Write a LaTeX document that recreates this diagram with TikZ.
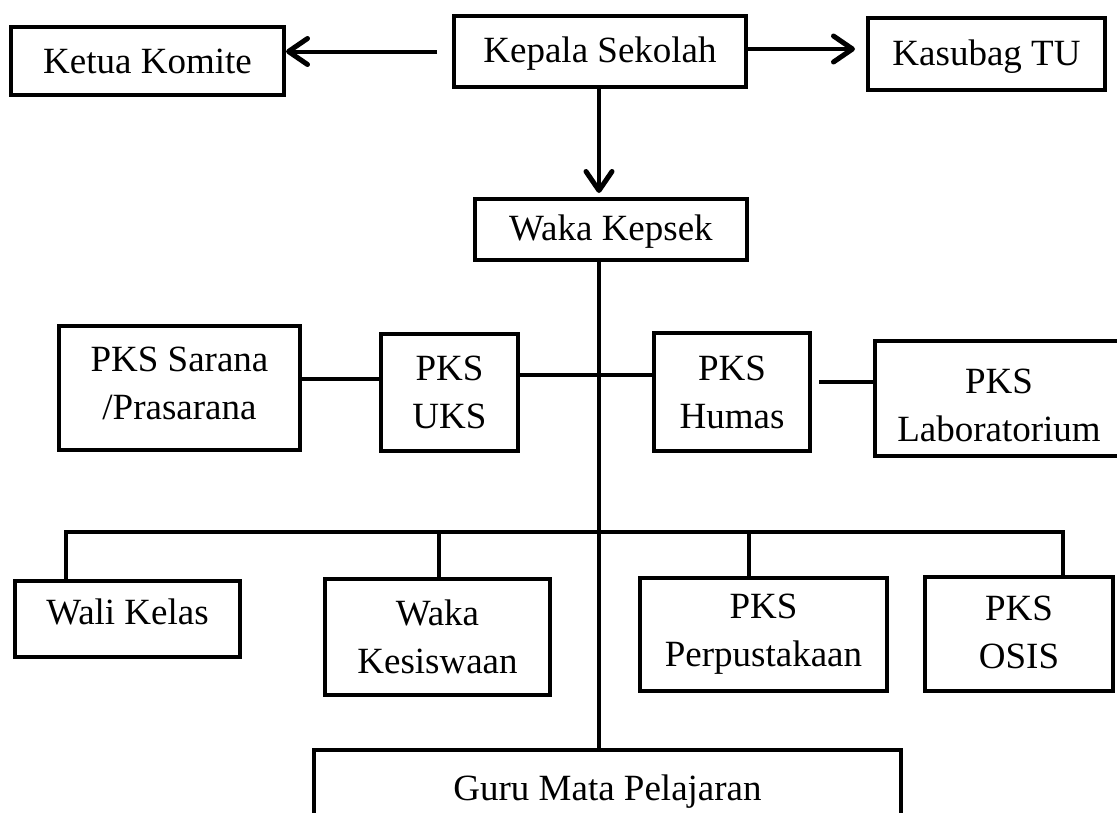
\documentclass[tikz,border=0pt]{standalone}
\usepackage{fontspec}
\setmainfont{Liberation Serif}
\usetikzlibrary{arrows.meta,calc}
\begin{document}
\begin{tikzpicture}[x=1pt,y=-1pt,
  txt/.style={inner sep=0pt, align=center, font=\fontsize{37}{48}\selectfont},
  box/.style={draw, line width=4pt, rectangle, txt},
  conn/.style={line width=4pt},
  arr/.style={line width=4pt, -{Straight Barb[length=19pt,width=26pt,line width=5pt,round]}}]
\fill[white] (0,0) rectangle (1117,812);
\clip (0,0) rectangle (1117,812);
% top row
\node[box, minimum width=273pt, minimum height=68pt] (ketua) at (147.5,61) {Ketua Komite};
\node[box, minimum width=292pt, minimum height=71pt, text depth=3pt] (kepala) at (600,51.5) {Kepala Sekolah};
\node[box, minimum width=237pt, minimum height=72pt, text depth=3pt] (kasubag) at (986.5,54) {Kasubag TU};
\node[box, minimum width=272pt, minimum height=61pt, text depth=3pt] (wakakepsek) at (611,229.5) {Waka Kepsek};
% middle row
\node[box, minimum width=241pt, minimum height=124pt,
  label={[txt, yshift=5pt]center:{PKS Sarana\\/Prasarana}}] (sarana) at (179.5,388) {};
\node[box, minimum width=137pt, minimum height=117pt] (uks) at (449.5,392.5) {PKS\\UKS};
\node[box, minimum width=156pt, minimum height=118pt] (humas) at (732,392) {PKS\\Humas};
\node[box, minimum width=248pt, minimum height=115pt,
  label={[txt, yshift=-7pt]center:{PKS\\Laboratorium}}] (lab) at (999,398.5) {};
% bottom row
\node[box, minimum width=225pt, minimum height=76pt, text depth=14pt] (wali) at (127.5,619) {Wali Kelas};
\node[box, minimum width=225pt, minimum height=116pt] (kesiswaan) at (437.5,637) {Waka\\Kesiswaan};
\node[box, minimum width=247pt, minimum height=113pt] (perpus) at (763.5,634.5) {PKS\\Perpustakaan};
\node[box, minimum width=188pt, minimum height=114pt,
  label={[txt, yshift=2pt]center:{PKS\\OSIS}}] (osis) at (1019,634) {};
\node[box, minimum width=587pt, minimum height=76pt,
  label={[txt, yshift=-4pt]center:{Guru Mata Pelajaran}}] (guru) at (607.5,788) {};
% helper coordinates
\coordinate (spine) at (599,0);
\coordinate (ka1) at ([yshift=2.5pt]kepala.east);
\coordinate (ka2) at ($(kasubag.west |- ka1)+(-11,0)$);
\coordinate (kk1) at ($(kepala.west)+(-15,0)$);
\coordinate (sr) at (0,379);
\coordinate (mr) at (0,375);
\coordinate (lr) at (0,382);
\coordinate (bw) at (66,532);
\coordinate (bk) at (439,532);
\coordinate (bp) at (749,532);
\coordinate (bo) at (1063,532);
% arrows
\draw[arr] (kk1) -- (kk1 -| ketua.east);
\draw[arr] (ka1) -- (ka2);
\draw[arr] (kepala.south -| spine) -- ($(wakakepsek.north -| spine)+(0,-4)$);
% spine
\draw[conn] (wakakepsek.south -| spine) -- (guru.north -| spine);
% middle connectors
\draw[conn] (sarana.east |- sr) -- (uks.west |- sr);
\draw[conn] (uks.east |- mr) -- (humas.west |- mr);
\draw[conn] ($(humas.east |- lr)+(7,0)$) -- (lab.west |- lr);
% bottom bus
\draw[conn] (wali.north -| bw) -- (bw) -- (bo) -- (osis.north -| bo);
\draw[conn] (bk) -- (kesiswaan.north -| bk);
\draw[conn] (bp) -- (perpus.north -| bp);
\end{tikzpicture}
\end{document}
